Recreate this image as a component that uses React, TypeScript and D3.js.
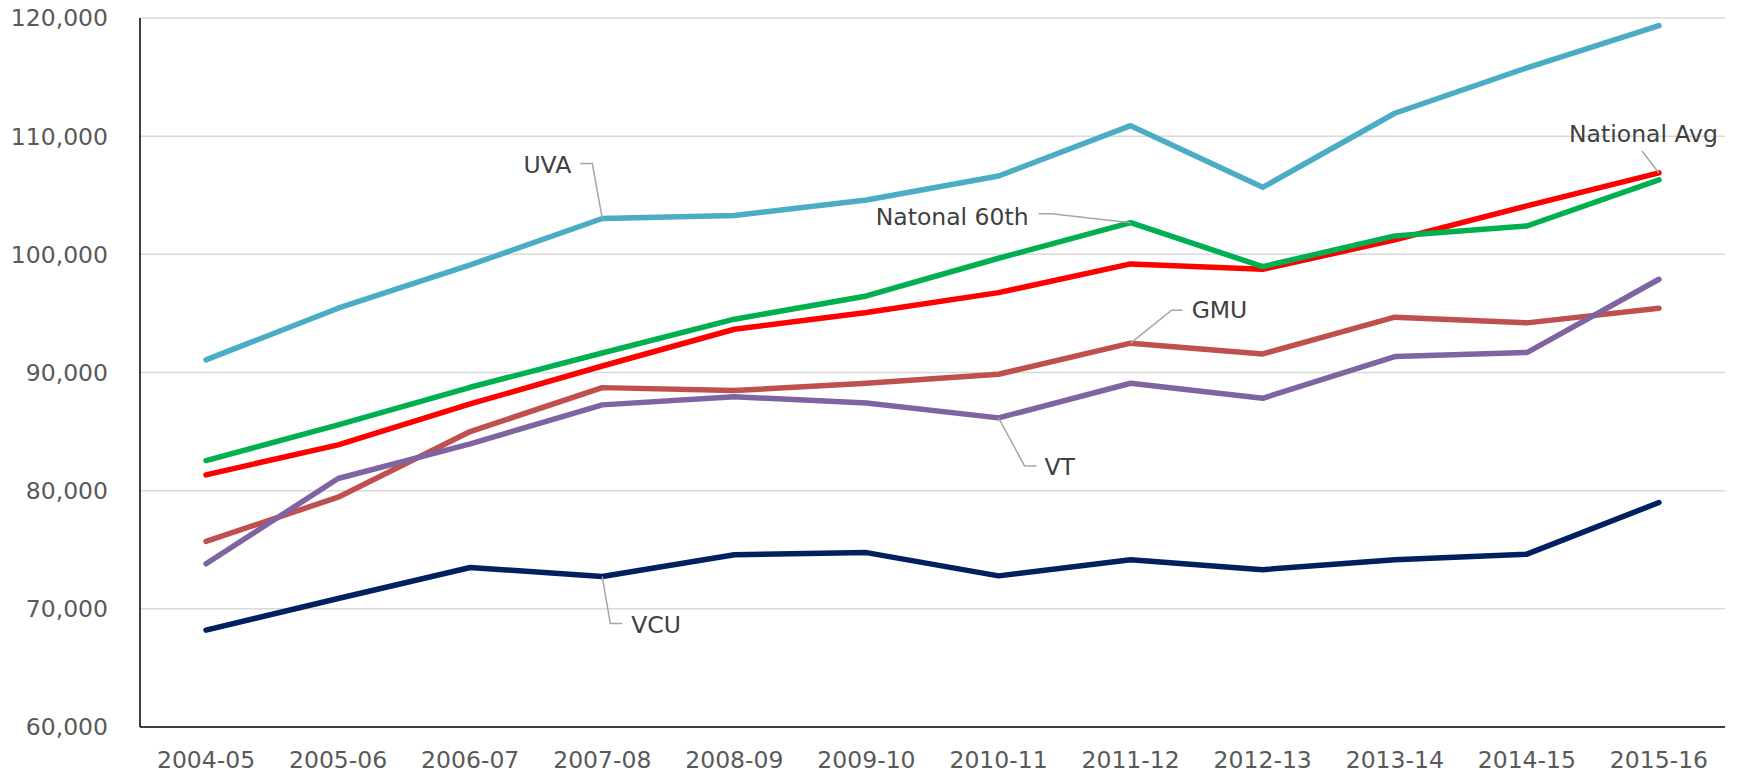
import { scaleLinear, scalePoint, line } from 'd3'

const years = ['2004-05', '2005-06', '2006-07', '2007-08', '2008-09', '2009-10', '2010-11', '2011-12', '2012-13', '2013-14', '2014-15', '2015-16']
const yTicks = [60000, 70000, 80000, 90000, 100000, 110000, 120000]

const nationalAvg = [81340, 83880, 87340, 90550, 93660, 95070, 96760, 99190, 98740, 101220, 104100, 106890]
const national60th = [82550, 85570, 88750, 91650, 94510, 96480, 99670, 102680, 98960, 101560, 102400, 106300]
const uva = [91070, 95440, 99100, 103030, 103280, 104600, 106630, 110890, 105670, 111940, 115780, 119350]
const gmu = [75700, 79450, 85000, 88720, 88470, 89090, 89850, 92480, 91570, 94680, 94200, 95440]
const vt = [73810, 81030, 83960, 87260, 87950, 87420, 86160, 89090, 87820, 91350, 91690, 97890]
const vcu = [68200, 70875, 73500, 72730, 74570, 74760, 72790, 74155, 73315, 74155, 74625, 79000]

// drawn bottom to top
const series = [
  { name: 'National Avg', values: nationalAvg, color: '#FF0000' },
  { name: 'Natonal 60th', values: national60th, color: '#00B050' },
  { name: 'UVA', values: uva, color: '#4BACC6' },
  { name: 'GMU', values: gmu, color: '#C0504D' },
  { name: 'VT', values: vt, color: '#8064A2' },
  { name: 'VCU', values: vcu, color: '#002060' },
]

// label callouts: which point they point at, and leader/label offsets from it
const callouts = [
  { name: 'UVA', values: uva, idx: 3, leader: [[-10, -55], [-22, -55]], text: [-31, -46], anchor: 'end' },
  { name: 'Natonal 60th', values: national60th, idx: 7, leader: [[-79, -9], [-92, -9]], text: [-102, 2], anchor: 'end' },
  { name: 'GMU', values: gmu, idx: 7, leader: [[41, -33], [52, -33]], text: [61, -25], anchor: 'start' },
  { name: 'VT', values: vt, idx: 6, leader: [[26, 48], [38, 48]], text: [46, 57], anchor: 'start' },
  { name: 'VCU', values: vcu, idx: 3, leader: [[8, 47], [20, 47]], text: [29, 56], anchor: 'start' },
  { name: 'National Avg', values: nationalAvg, idx: 11, leader: [[-17, -22]], text: [59, -31], anchor: 'end' },
]

const W = 1738
const H = 774
const left = 140
const right = 1725
const top = 18
const bottom = 727

const font = '"DejaVu Sans", Verdana, sans-serif'

export default function App() {
  const x = scalePoint<string>().domain(years).range([left, right]).padding(0.5)
  const y = scaleLinear().domain([60000, 120000]).range([bottom, top])

  const lineGen = line<number>()
    .x((_, i) => x(years[i]) as number)
    .y((d) => y(d))

  return (
    <svg
      width={W}
      height={H}
      style={{ position: 'absolute', left: 0, top: 0, background: '#fff' }}
      fontFamily={font}
    >
      {yTicks.map((t) => (
        <g key={t}>
          {t > 60000 && (
            <line x1={left} x2={right} y1={y(t)} y2={y(t)} stroke="#D9D9D9" strokeWidth={1.5} />
          )}
          <text x={108} y={y(t)} dy="0.36em" textAnchor="end" fontSize={23.5} fill="#595959">
            {t.toLocaleString('en-US')}
          </text>
        </g>
      ))}

      {years.map((yr) => (
        <text key={yr} x={x(yr)} y={768} textAnchor="middle" fontSize={23.5} fill="#595959">
          {yr}
        </text>
      ))}

      <line x1={left} x2={left} y1={top} y2={bottom} stroke="#000" strokeWidth={1.5} />
      <line x1={left} x2={right} y1={bottom} y2={bottom} stroke="#000" strokeWidth={1.5} />

      {series.map((s) => (
        <path
          key={s.name}
          d={lineGen(s.values) || ''}
          fill="none"
          stroke={s.color}
          strokeWidth={5.5}
          strokeLinejoin="round"
          strokeLinecap="round"
        />
      ))}

      {callouts.map((c) => {
        const px = x(years[c.idx]) as number
        const py = y(c.values[c.idx])
        const pts = [[px, py], ...c.leader.map(([dx, dy]) => [px + dx, py + dy])]
        return (
          <g key={c.name}>
            <polyline
              points={pts.map((p) => p.join(',')).join(' ')}
              fill="none"
              stroke="#A6A6A6"
              strokeWidth={1.5}
            />
            <text
              x={px + c.text[0]}
              y={py + c.text[1]}
              textAnchor={c.anchor}
              fontSize={23.5}
              fill="#404040"
            >
              {c.name}
            </text>
          </g>
        )
      })}
    </svg>
  )
}
